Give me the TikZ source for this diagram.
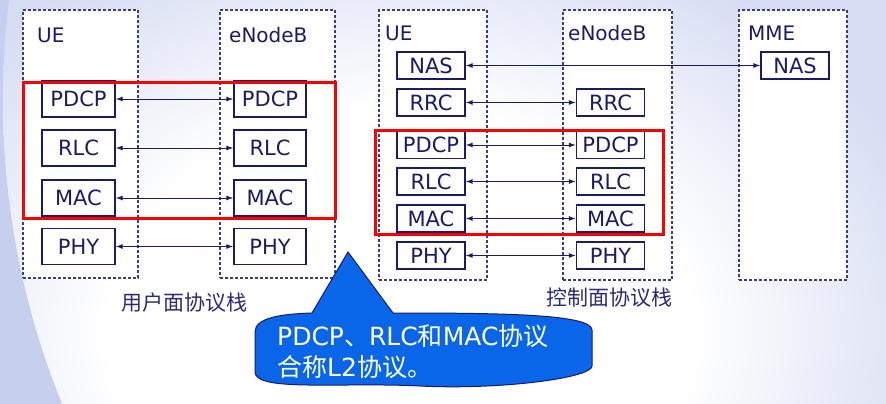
\documentclass[tikz,border=0pt]{standalone}
\usepackage{fontspec}
\setmainfont{DejaVu Sans}
\newfontfamily\cjk{Noto Sans CJK SC}
\usetikzlibrary{arrows.meta}
\definecolor{navy}{HTML}{1A1A6E}
\definecolor{dashnavy}{HTML}{3C3C85}
\definecolor{captionnavy}{HTML}{2B2B7B}
\definecolor{calloutblue}{HTML}{0A66E8}
\definecolor{bgblue}{HTML}{C6D0EE}
\definecolor{bglav}{HTML}{D6DDF3}
\pgfdeclareradialshading{bgglow}{\pgfpoint{0bp}{0bp}}{color(0bp)=(white); color(13bp)=(white); color(25bp)=(bglav); color(50bp)=(bglav)}
\begin{document}
\begin{tikzpicture}[x=1pt, y=-1pt,
  layer box/.style={draw=navy, fill=white, line width=1.3pt, text=navy, font=\fontsize{21}{24}\selectfont, inner sep=0pt},
  big box/.style={layer box, minimum height=36pt},
  small box/.style={layer box, minimum width=68pt, minimum height=27pt},
  column/.style={draw=dashnavy, fill=white, dash pattern=on 3pt off 2pt, line width=1.2pt, inner sep=0pt, minimum height=268pt},
  title/.style={anchor=west, inner sep=0pt, text=navy, font=\fontsize{20}{24}\selectfont},
  caption/.style={inner sep=0pt, text=captionnavy, font=\cjk\fontsize{21}{24}\selectfont},
  link/.style={{Latex[length=7pt,width=5pt]}-{Latex[length=7pt,width=5pt]}, draw=navy, line width=1pt},
  red frame/.style={draw=red, line width=3pt}]
% background
\useasboundingbox (0,0) rectangle (886,404);
\clip (0,0) rectangle (886,404);
\fill[bgblue] (0,0) rectangle (886,404);
\begin{scope}
  \clip (809,100) circle (806);
  \fill[bglav] (0,0) rectangle (886,404);
  \shade[shading=bgglow] (400,330) ellipse (560 and 420);
\end{scope}
% user plane
\node[column, minimum width=115pt] (uUE) at (80.5,144) {};
\node[column, minimum width=115pt] (uEnb) at (277.5,144) {};
\node[title] (uUEt) at (37,35) {UE};
\node[title] (uEnbt) at (229,35) {eNodeB};
\node[big box, minimum width=73pt] (uPdcp1) at (78.5,99) {PDCP};
\node[big box, minimum width=73pt] (uRlc1) at (78.5,148) {RLC};
\node[big box, minimum width=73pt] (uMac1) at (78.5,198) {MAC};
\node[big box, minimum width=73pt] (uPhy1) at (78.5,246.5) {PHY};
\node[big box, minimum width=72pt] (uPdcp2) at (270,99) {PDCP};
\node[big box, minimum width=72pt] (uRlc2) at (270,148) {RLC};
\node[big box, minimum width=72pt] (uMac2) at (270,198) {MAC};
\node[big box, minimum width=72pt] (uPhy2) at (270,246.5) {PHY};
\draw[link] (uPdcp1) -- (uPdcp2);
\draw[link] (uRlc1) -- (uRlc2);
\draw[link] (uMac1) -- (uMac2);
\draw[link] (uPhy1) -- (uPhy2);
\draw[red frame] (23,82) rectangle (335,218);
\node[caption] (uCap) at (184,303) {用户面协议栈};
% control plane
\node[column, minimum width=108pt, minimum height=270pt] (cUE) at (433,145) {};
\node[column, minimum width=109pt, minimum height=270pt] (cEnb) at (617.5,145) {};
\node[column, minimum width=108pt, minimum height=270pt] (cMme) at (793,145) {};
\node[title] (cUEt) at (385,33) {UE};
\node[title] (cEnbt) at (568,33) {eNodeB};
\node[title] (cMmet) at (748,33) {MME};
\node[small box] (cNas1) at (431,65.5) {NAS};
\node[small box] (cRrc1) at (431,102.5) {RRC};
\node[small box] (cPdcp1) at (431,145) {PDCP};
\node[small box] (cRlc1) at (431,181.5) {RLC};
\node[small box] (cMac1) at (431,218.5) {MAC};
\node[small box] (cPhy1) at (431,255.5) {PHY};
\node[small box] (cRrc2) at (610.5,102.5) {RRC};
\node[small box] (cPdcp2) at (610.5,145) {PDCP};
\node[small box] (cRlc2) at (610.5,181.5) {RLC};
\node[small box] (cMac2) at (610.5,218.5) {MAC};
\node[small box] (cPhy2) at (610.5,255.5) {PHY};
\node[small box] (cNas3) at (795,65.5) {NAS};
\draw[link] (cNas1) -- (cNas3);
\draw[link] (cRrc1) -- (cRrc2);
\draw[link] (cPdcp1) -- (cPdcp2);
\draw[link] (cRlc1) -- (cRlc2);
\draw[link] (cMac1) -- (cMac2);
\draw[link] (cPhy1) -- (cPhy2);
\draw[red frame] (375,130) rectangle (663,234);
\node[caption] (cCap) at (609,298) {控制面协议栈};
% callout
\draw[fill=calloutblue, draw=navy, line width=1pt]
  (255,332) .. controls (255,318) and (280,314) .. (312,313) -- (348,252) -- (393,313)
  .. controls (500,313) and (592,314) .. (592,330) -- (592,366)
  .. controls (592,378) and (500,390) .. (420,386)
  .. controls (340,382) and (255,392) .. (255,372) -- cycle;
\node[anchor=west, align=left, inner sep=0pt, text=white, font=\fontsize{25}{31}\selectfont] (note) at (277,352)
  {PDCP{\cjk 、}RLC{\cjk 和}MAC{\cjk 协议}\\{\cjk 合称}L2{\cjk 协议。}};
\end{tikzpicture}
\end{document}
